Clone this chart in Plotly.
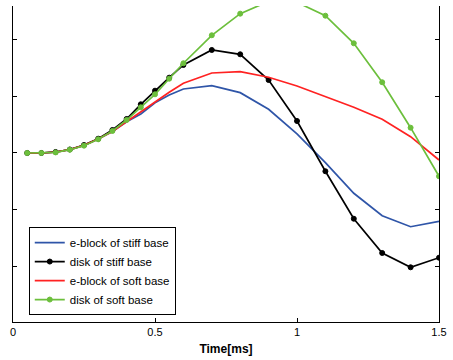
import plotly.graph_objects as go

time_ms = [0.05, 0.1, 0.15, 0.2, 0.25, 0.3, 0.35, 0.4, 0.45, 0.5, 0.55, 0.6,
           0.7, 0.8, 0.9, 1.0, 1.1, 1.2, 1.3, 1.4, 1.5]

eblock_stiff = [0.0, 0.0, 0.015, 0.06, 0.135, 0.245, 0.38, 0.55, 0.687, 0.886, 1.022, 1.128,
                1.186, 1.063, 0.77, 0.335, -0.171, -0.71, -1.105, -1.299, -1.203]
disk_stiff = [0.0, 0.0, 0.018, 0.062, 0.141, 0.252, 0.405, 0.599, 0.858, 1.098, 1.327, 1.551,
              1.815, 1.739, 1.286, 0.564, -0.322, -1.158, -1.762, -2.014, -1.845]
eblock_soft = [0.0, 0.0, 0.015, 0.06, 0.135, 0.245, 0.38, 0.552, 0.722, 0.904, 1.07, 1.228,
               1.41, 1.433, 1.334, 1.181, 0.992, 0.805, 0.594, 0.287, -0.123]
disk_soft = [0.0, 0.0, 0.01, 0.058, 0.129, 0.241, 0.388, 0.581, 0.805, 1.034, 1.309, 1.581,
             2.074, 2.455, 2.67, 2.655, 2.419, 1.933, 1.246, 0.446, -0.41]

names = ["e-block of stiff base", "disk of stiff base", "e-block of soft base", "disk of soft base"]
x_ticks = [0, 0.5, 1, 1.5]
x_tick_labels = ["0", "0.5", "1", "1.5"]
y_ticks = [-2, -1, 0, 1, 2]

fig = go.Figure()
fig.add_trace(go.Scatter(x=time_ms, y=eblock_stiff, name=names[0], mode="lines",
                         line=dict(color="#2f55a8", width=1.7)))
fig.add_trace(go.Scatter(x=time_ms, y=disk_stiff, name=names[1], mode="lines+markers",
                         line=dict(color="#000000", width=1.7),
                         marker=dict(symbol="circle", size=5, color="#000000",
                                     line=dict(color="#000000", width=1))))
fig.add_trace(go.Scatter(x=time_ms, y=eblock_soft, name=names[2], mode="lines",
                         line=dict(color="#ff2222", width=1.7)))
fig.add_trace(go.Scatter(x=time_ms, y=disk_soft, name=names[3], mode="lines+markers",
                         line=dict(color="#6cbf3c", width=1.7),
                         marker=dict(symbol="circle", size=5, color="#6cbf3c",
                                     line=dict(color="#6cbf3c", width=1))))

fig.update_layout(
    width=453, height=360,
    margin=dict(l=13, r=10, t=6, b=38),
    paper_bgcolor="white", plot_bgcolor="white",
    font=dict(family="Liberation Sans, Arial, sans-serif", size=11, color="black"),
    showlegend=True,
    legend=dict(x=0.037, y=0.022, xanchor="left", yanchor="bottom",
                bordercolor="black", borderwidth=1, bgcolor="white",
                font=dict(size=11.5), tracegroupgap=0, itemwidth=30),
    xaxis=dict(range=[0, 1.5], tickvals=x_ticks, ticktext=x_tick_labels,
               showgrid=False, zeroline=False, showline=True, linecolor="black", linewidth=1,
               ticks="inside", ticklen=4, tickcolor="black",
               title=dict(text="<b>Time[ms]</b>", font=dict(size=12), standoff=7)),
    yaxis=dict(range=[-2.978, 2.59], tickvals=y_ticks, showticklabels=False,
               showgrid=False, zeroline=False, showline=True, linecolor="black", linewidth=1,
               ticks="inside", ticklen=4, tickcolor="black", mirror="ticks"),
)

fig.write_html("out.html")
